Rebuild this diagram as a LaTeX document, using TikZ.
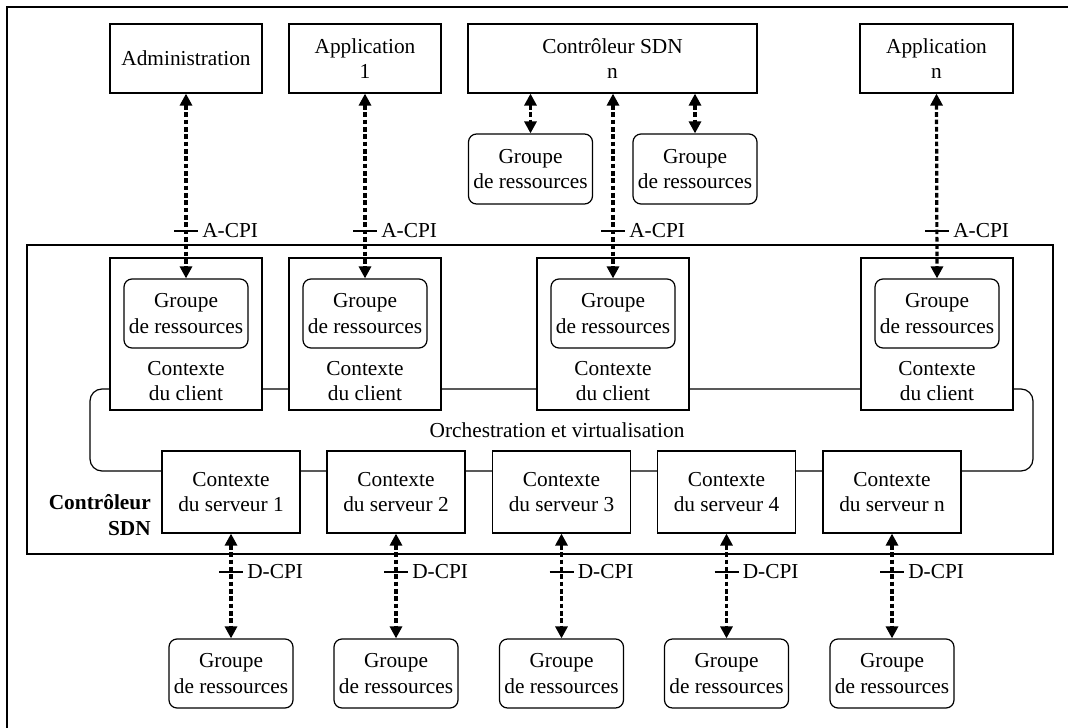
\documentclass[tikz,border=0pt]{standalone}
\usepackage{fontspec}
\setmainfont{Liberation Serif}
\usetikzlibrary{arrows.meta}
\begin{document}
\begin{tikzpicture}[x=0.75pt,y=-0.75pt,
  every node/.style={font=\fontsize{16}{19}\selectfont, align=center, inner sep=0pt},
  frame/.style={draw, line width=0.9pt},
  topbox/.style={frame, fill=white, minimum height=51.75pt, minimum width=#1},
  groupbox/.style={frame, fill=white, rounded corners=6pt, minimum width=93pt, minimum height=51.75pt},
  clientbox/.style={frame, fill=white, minimum width=114pt, minimum height=114pt},
  serverbox/.style={frame, fill=white, minimum width=103.5pt, minimum height=61.5pt},
  cpi/.style={line width=2.4pt, dash pattern=on 3.5pt off 2pt,
    {Triangle[length=9pt,width=9pt]}-{Triangle[length=9pt,width=9pt]}},
  tick/.style={line width=0.8pt},
  cpilabel/.style={anchor=west}
]
\useasboundingbox (0,0) rectangle (1068,728);

% outer page frame (only top and left edges fall inside)
\draw[frame] (7,728) -- (7,7) -- (1068,7);

% the SDN controller enclosure
\draw[frame] (27,245) rectangle (1053,554);

% orchestration ring, drawn under the context boxes
\draw[frame, rounded corners=9pt] (90,389) rectangle (1033,471);
\node (orch) at (557,430) {Orchestration et virtualisation};

% top row
\node[topbox=114pt] (admin) at (186,58.5) {Administration};
\node[topbox=114pt] (app1) at (365,58.5) {Application\\1};
\node[topbox=216.75pt] (ctrl) at (612.5,58.5) {Contrôleur SDN\\n};
\node[topbox=114.75pt] (appn) at (936.5,58.5) {Application\\n};

% resource groups of controller n
\node[groupbox, minimum height=52.5pt] (ug1) at (530.5,169) {Groupe\\de ressources};
\node[groupbox, minimum height=52.5pt] (ug2) at (695,169) {Groupe\\de ressources};

% client contexts
\foreach \i/\x in {1/186, 2/365, 3/613, 4/937} {
  \node[clientbox] (cc\i) at (\x,334) {};
  \node[groupbox] (cg\i) at (\x,313.5) {Groupe\\de ressources};
  \node (ct\i) at (\x,381) {Contexte\\du client};
}

% server contexts and their resource groups
\foreach \i/\x/\n in {1/231/1, 2/396/2, 3/561.5/3, 4/726.5/4, 5/892/n} {
  \node[serverbox] (sc\i) at (\x,492) {Contexte\\du serveur \n};
  \node[groupbox] (bg\i) at (\x,673.5) {Groupe\\de ressources};
}

\node[anchor=east, font=\fontsize{16}{19}\selectfont\bfseries, align=right] (sdn) at (151,515) {Contrôleur\\SDN};

% A-CPI links
\draw[cpi] (admin.south) -- (cg1.north);
\draw[cpi] (app1.south) -- (cg2.north);
\draw[cpi] (cg3.north |- ctrl.south) -- (cg3.north);
\draw[cpi] (appn.south) -- (cg4.north);
\draw[cpi] (ug1.north |- ctrl.south) -- (ug1.north);
\draw[cpi] (ug2.north |- ctrl.south) -- (ug2.north);

\foreach \i in {1,...,4} {
  \coordinate (at\i) at (cg\i.north |- 0,231);
  \draw[tick] ([xshift=-9]at\i) -- ([xshift=9]at\i);
  \node[cpilabel] (al\i) at ([xshift=12]at\i) {A-CPI};
}

% D-CPI links
\foreach \i in {1,...,5} {
  \draw[cpi] (sc\i.south) -- (bg\i.north);
  \coordinate (dt\i) at (sc\i.south |- 0,572);
  \draw[tick] ([xshift=-9]dt\i) -- ([xshift=9]dt\i);
  \node[cpilabel] (dl\i) at ([xshift=12]dt\i) {D-CPI};
}
\end{tikzpicture}
\end{document}
